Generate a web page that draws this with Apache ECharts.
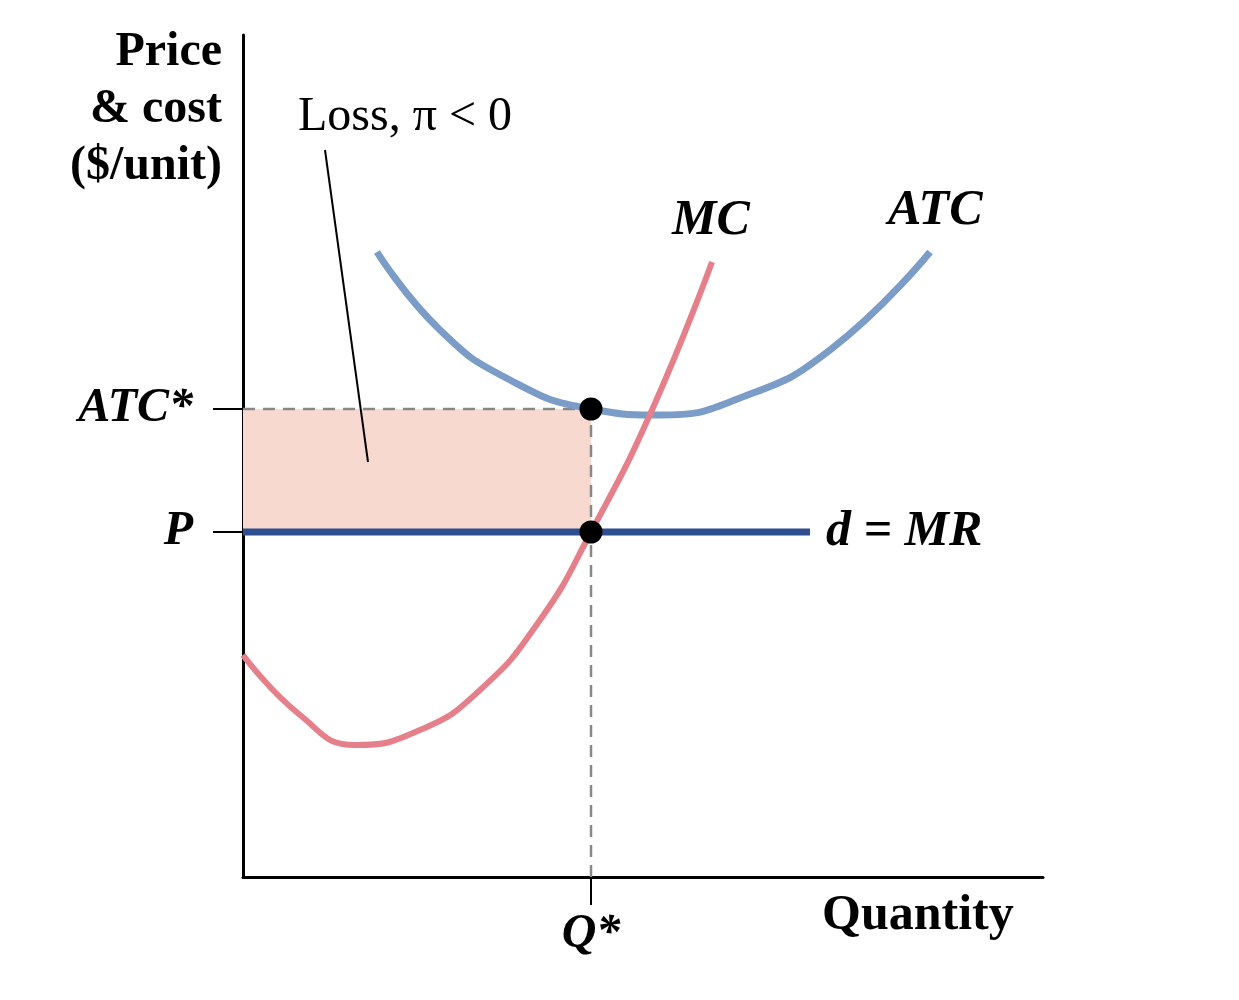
<!DOCTYPE html>
<html><head><meta charset="utf-8">
<script src="https://cdn.jsdelivr.net/npm/echarts@6/dist/echarts.min.js"></script>
<style>html,body{margin:0;background:#fff}#c{width:1239px;height:1000px}</style>
</head><body><div id="c"></div>
<script>
// data in chart units (x: quantity 0..800, y: price 0..842)
const mcPoints = [[0,222],[57,162],[112,132],[177,147],[237,187],[297,257],[348,345],[409,467],[469,615]];
const atcPoints = [[134,625],[197,547],[267,497],[348,468],[417,462],[497,479],[587,527],[687,625]];
const mrPoints = [[0,345],[567,345]];
const qStar = 348, atcStar = 468, price = 345;
const dots = [[qStar, atcStar], [qStar, price]];
const leader = [[82,727],[125,415]];
const serif = '"Liberation Serif","DejaVu Serif",serif';

const chart = echarts.init(document.getElementById('c'));
chart.setOption({
  animation: false,
  grid: { left: 243, top: 35, width: 800, height: 842 },
  xAxis: {
    type: 'value', min: 0, max: 800,
    splitLine: { show: false },
    axisLine: { lineStyle: { color: '#000', width: 3 } },
    axisTick: { show: true, length: 28, customValues: [qStar], lineStyle: { color: '#000', width: 2 } },
    axisLabel: { customValues: [qStar], formatter: () => 'Q*', margin: 34, color: '#000',
      fontFamily: serif, fontSize: 48, fontStyle: 'italic', fontWeight: 'bold' }
  },
  yAxis: {
    type: 'value', min: 0, max: 842,
    splitLine: { show: false },
    axisLine: { lineStyle: { color: '#000', width: 3 } },
    axisTick: { show: true, length: 30, customValues: [price, atcStar], lineStyle: { color: '#000', width: 2 } },
    axisLabel: { customValues: [price, atcStar], formatter: v => v === price ? 'P' : 'ATC*', margin: 50, color: '#000',
      fontFamily: serif, fontSize: 48, fontStyle: 'italic', fontWeight: 'bold' }
  },
  series: [
    { type: 'line', data: [[0, atcStar], [qStar, atcStar]], symbol: 'none', silent: true,
      lineStyle: { color: '#888', width: 2.5, type: [12, 8] },
      markArea: { silent: true, itemStyle: { color: '#f8d9cf', opacity: 1 }, data: [[{ coord: [0, price] }, { coord: [qStar, atcStar] }]] } },
    { type: 'line', data: [[qStar, 0], [qStar, atcStar]], symbol: 'none', lineStyle: { color: '#888', width: 2.5, type: [12, 8] } },
    { type: 'line', data: atcPoints, smooth: 0.5, symbol: 'none', lineStyle: { color: '#7b9cc6', width: 7 } },
    { type: 'line', data: mcPoints, smooth: 0.5, symbol: 'none', lineStyle: { color: '#e57f8a', width: 6 } },
    { type: 'line', data: mrPoints, symbol: 'none', lineStyle: { color: '#2d4f8f', width: 7 } },
    { type: 'line', data: leader, symbol: 'none', lineStyle: { color: '#000', width: 2 } },
    { type: 'scatter', data: dots, symbolSize: 23, itemStyle: { color: '#000', opacity: 1 }, z: 10 }
  ],
  graphic: [
    { type: 'text', x: 222, y: 24, style: { text: 'Price\n& cost\n($/unit)', align: 'right', fontFamily: serif, fontSize: 48, fontWeight: 'bold', lineHeight: 57, fill: '#000' } },
    { type: 'text', left: 298, top: 93, style: { text: 'Loss, π < 0', fontFamily: serif, fontSize: 48, fill: '#000' } },
    { type: 'text', left: 672, top: 196, style: { text: 'MC', fontFamily: serif, fontSize: 50, fontStyle: 'italic', fontWeight: 'bold', fill: '#000' } },
    { type: 'text', left: 888, top: 186, style: { text: 'ATC', fontFamily: serif, fontSize: 50, fontStyle: 'italic', fontWeight: 'bold', fill: '#000' } },
    { type: 'text', left: 826, top: 507, style: { text: 'd = MR', fontFamily: serif, fontSize: 50, fontStyle: 'italic', fontWeight: 'bold', fill: '#000' } },
    { type: 'text', left: 822, top: 891, style: { text: 'Quantity', fontFamily: serif, fontSize: 50, fontWeight: 'bold', fill: '#000' } }
  ]
});
</script></body></html>
